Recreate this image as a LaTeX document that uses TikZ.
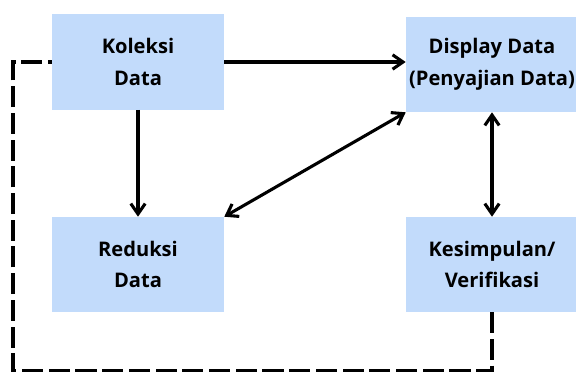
\documentclass[tikz,border=0pt]{standalone}
\usepackage{fontspec}
\setmainfont{Open Sans}
\usepackage{tikz}
\usetikzlibrary{arrows.meta,positioning,calc}
\tikzset{
  flowarrow/.style={-{Straight Barb[length=2.6mm,width=3.6mm,line width=2.2pt]}, line width=2.2pt, draw=black},
  flowboth/.style={flowarrow, {Straight Barb[length=2.6mm,width=3.6mm,line width=2.2pt]}-{Straight Barb[length=2.6mm,width=3.6mm,line width=2.2pt]}},
  loopdash/.style={line width=2.4pt, draw=black, dash pattern=on 15pt off 4pt}
}
\definecolor{BoxBlue}{HTML}{C2DBFB}

\begin{document}
\begin{tikzpicture}[
  x=0.025cm, y=-0.025cm,
  box/.style={fill=BoxBlue, draw=none, align=center, minimum width=4.3cm, minimum height=2.375cm, inner sep=0pt,
    font=\fontsize{14.3}{22.5}\selectfont\bfseries}
]
\useasboundingbox (0,0) rectangle (576,371);

\node[box] at (138,62) (koleksi) {Koleksi\\Data};
\node[box] at (492,64.5) (display) {Display Data\\(Penyajian Data)};
\node[box] at (138,264.5) (reduksi) {Reduksi\\Data};
\node[box] at (492,264.5) (simpulan) {Kesimpulan/\\Verifikasi};

\coordinate (loopbr) at (492,371);
\coordinate (loopbl) at (13,371);

\draw[flowarrow] (koleksi.east) -- (koleksi.east -| display.west);
\draw[flowarrow] (koleksi.south) -- (reduksi.north);
\draw[flowboth] (reduksi.north east) -- (display.south west);
\draw[flowboth] (display.south) -- (simpulan.north);
\draw[loopdash] (simpulan.south) -- (loopbr) -- (loopbl) |- (koleksi.west);
\end{tikzpicture}
\end{document}
